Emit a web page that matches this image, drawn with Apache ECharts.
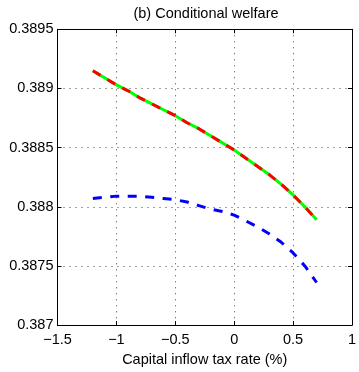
<!DOCTYPE html>
<html>
<head>
<meta charset="utf-8">
<script src="https://cdn.jsdelivr.net/npm/echarts@6/dist/echarts.min.js"></script>
<style>
  html, body { margin: 0; padding: 0; background: #fff; }
  #chart { width: 359px; height: 372px; }
</style>
</head>
<body>
<div id="chart"></div>
<script>
// tax rate (%) on the x axis
const taxRates = [-1.2, -1.1, -1.0, -0.9, -0.8, -0.7, -0.6, -0.5, -0.4, -0.3, -0.2,
  -0.1, 0.0, 0.1, 0.2, 0.3, 0.4, 0.5, 0.6, 0.7];

// green solid with red dashed overlay (same values)
const welfareGreen = [0.38915, 0.38909, 0.38903, 0.38898, 0.38892, 0.38887, 0.38882,
  0.38877, 0.38871, 0.38866, 0.38860, 0.38854, 0.38848, 0.38841, 0.38834, 0.38827,
  0.38819, 0.38810, 0.38800, 0.38789];
const welfareRed = welfareGreen.slice();

// blue dashed
const welfareBlue = [0.38807, 0.38808, 0.38809, 0.38809, 0.38809, 0.38808, 0.38807,
  0.38806, 0.38804, 0.38801, 0.38798, 0.38796, 0.38793, 0.38788, 0.38783, 0.38777,
  0.38770, 0.38761, 0.38750, 0.38736];

const xTicks = { min: -1.5, max: 1, step: 0.5 };
const yTicks = { min: 0.387, max: 0.3895, step: 0.0005 };

const FONT = "Liberation Sans, Arial, Helvetica, sans-serif";

function pairs(ys) {
  return taxRates.map((x, i) => [x, ys[i]]);
}

function fmtX(v) {
  const s = String(Number(v.toFixed(2)));
  return s.replace("-", "\u2212");
}

function fmtY(v) {
  return String(Number(v.toFixed(4)));
}

const chart = echarts.init(document.getElementById("chart"), null, { renderer: "canvas" });

// top / right copies of the axes: only the box line and inner ticks
function boxAxis(position, ticks) {
  return {
    type: "value",
    position: position,
    min: ticks.min,
    max: ticks.max,
    interval: ticks.step,
    axisLabel: { show: false },
    splitLine: { show: false },
    axisLine: { show: true, onZero: false, lineStyle: { color: "#000", width: 1 } },
    axisTick: { show: true, inside: true, length: 4, lineStyle: { color: "#000" } },
  };
}

chart.setOption({
  animation: false,
  backgroundColor: "#fff",
  title: {
    text: "(b) Conditional welfare",
    left: 206,
    textAlign: "center",
    top: 6,
    padding: 0,
    textStyle: { fontFamily: FONT, fontSize: 14.5, fontWeight: "normal", color: "#000" },
  },
  grid: { left: 57.5, right: 4, top: 29.3, bottom: 39.3, containLabel: false },
  xAxis: [
    {
      type: "value",
      min: xTicks.min,
      max: xTicks.max,
      interval: xTicks.step,
      name: "Capital inflow tax rate (%)",
      nameLocation: "middle",
      nameGap: 24,
      nameTextStyle: { fontFamily: FONT, fontSize: 14.5, color: "#000" },
      axisLine: { show: true, onZero: false, lineStyle: { color: "#000", width: 1 } },
      axisTick: { show: true, inside: true, length: 4, lineStyle: { color: "#000" } },
      axisLabel: { fontFamily: FONT, fontSize: 14.5, color: "#000", margin: 7, formatter: fmtX },
      splitLine: { show: true, lineStyle: { color: "#444", type: [1, 5], width: 1 } },
    },
    boxAxis("top", xTicks),
  ],
  yAxis: [
    {
      type: "value",
      min: yTicks.min,
      max: yTicks.max,
      interval: yTicks.step,
      axisLine: { show: true, onZero: false, lineStyle: { color: "#000", width: 1 } },
      axisTick: { show: true, inside: true, length: 4, lineStyle: { color: "#000" } },
      axisLabel: { fontFamily: FONT, fontSize: 14.5, color: "#000", margin: 4, formatter: fmtY },
      splitLine: { show: true, lineStyle: { color: "#444", type: [1, 5], width: 1 } },
    },
    boxAxis("right", yTicks),
  ],
  series: [
    {
      name: "green",
      type: "line",
      data: pairs(welfareGreen),
      showSymbol: false,
      lineStyle: { color: "#00ff00", width: 3 },
      z: 3,
    },
    {
      name: "red",
      type: "line",
      data: pairs(welfareRed),
      showSymbol: false,
      lineStyle: { color: "#ff0000", width: 3, type: [9, 8] },
      z: 4,
    },
    {
      name: "blue",
      type: "line",
      data: pairs(welfareBlue),
      showSymbol: false,
      lineStyle: { color: "#0000ff", width: 3, type: [9, 8.5] },
      z: 3,
    },
  ],
});
</script>
</body>
</html>
